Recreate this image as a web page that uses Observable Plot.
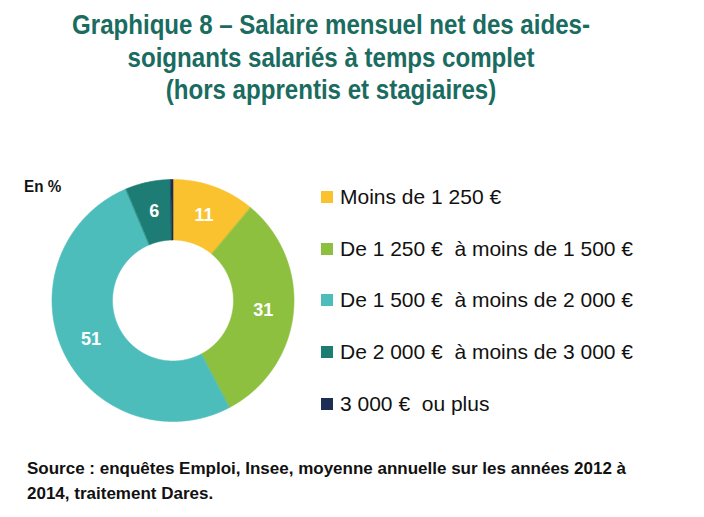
<!DOCTYPE html>
<html lang="fr">
<head>
<meta charset="utf-8">
<script src="https://cdn.jsdelivr.net/npm/d3@7"></script>
<script src="https://cdn.jsdelivr.net/npm/@observablehq/plot@0.6"></script>
<style>
  html, body { margin: 0; padding: 0; background: #fff; }
  #page { position: relative; width: 704px; height: 517px; overflow: hidden; }
  #title {
    position: absolute; left: 0; top: 9px; width: 662px; text-align: center;
    font-family: "Liberation Sans", Arial, sans-serif;
    font-weight: bold; font-size: 28px; line-height: 32.5px;
    color: #1a6b60; transform: scaleX(0.86); transform-origin: 331px 0;
  }
  #unit {
    position: absolute; left: 24px; top: 178px;
    font-family: "Liberation Sans", Arial, sans-serif;
    font-weight: bold; font-size: 16px; color: #111;
    transform: scaleX(0.95); transform-origin: 0 0;
  }
  #chart { position: absolute; left: 0; top: 120px; }
  #legend {
    position: absolute; left: 321px; top: 171px;
    font-family: "Liberation Sans", Arial, sans-serif; font-size: 21px; color: #111;
  }
  #legend .row { display: flex; align-items: center; height: 51.8px; white-space: pre; }
  #legend .sw { width: 12px; height: 12px; margin-right: 7px; }
  #source {
    position: absolute; left: 27px; top: 456px; white-space: nowrap;
    font-family: "Liberation Sans", Arial, sans-serif;
    font-weight: bold; font-size: 17px; line-height: 25px; color: #111;
  }
</style>
</head>
<body>
<div id="page">
  <div id="title">Graphique 8 – Salaire mensuel net des aides-<br>soignants salariés à temps complet<br>(hors apprentis et stagiaires)</div>
  <div id="unit">En %</div>
  <div id="chart"></div>
  <div id="legend"></div>
  <div id="source">Source : enquêtes Emploi, Insee, moyenne annuelle sur les années 2012 à<br>2014, traitement Dares.</div>
</div>
<script>
// Salary brackets (net monthly pay) and their shares, in %
const categories = [
  "Moins de 1 250 €",
  "De 1 250 €  à moins de 1 500 €",
  "De 1 500 €  à moins de 2 000 €",
  "De 2 000 €  à moins de 3 000 €",
  "3 000 €  ou plus"
];
const shares = [11, 31, 51, 6, 0.3];
const shownLabels = ["11", "31", "51", "6", ""];
const colors = ["#f9c22e", "#8dc03f", "#4dbdbb", "#1d7c74", "#1c2e52"];

const innerRatio = 0.5;

// Slice angles: start at 12 o'clock, clockwise
const arcs = d3.pie().sort(null).value(d => d.value)(
  categories.map((c, i) => ({category: c, value: shares[i], label: shownLabels[i]}))
);

// Ring polygons: outer arc forward, inner arc back
const ring = [];
for (const a of arcs) {
  const n = Math.max(2, Math.ceil((a.endAngle - a.startAngle) / (Math.PI / 360)));
  for (let k = 0; k <= n; k++) {
    const t = a.startAngle + (a.endAngle - a.startAngle) * k / n;
    ring.push({category: a.data.category, x: Math.sin(t), y: Math.cos(t)});
  }
  for (let k = n; k >= 0; k--) {
    const t = a.startAngle + (a.endAngle - a.startAngle) * k / n;
    ring.push({category: a.data.category, x: innerRatio * Math.sin(t), y: innerRatio * Math.cos(t)});
  }
}

// Value labels at the middle of each slice
const rMid = (1 + innerRatio) / 2;
const labels = arcs.filter(a => a.data.label).map(a => {
  const t = (a.startAngle + a.endAngle) / 2;
  return {x: rMid * Math.sin(t), y: rMid * Math.cos(t), text: a.data.label};
});

const cx = 172.5, cy = 180, R = 121;

const chart = Plot.plot({
  width: 300,
  height: 320,
  margin: 0,
  x: {domain: [-1, 1], range: [cx - R, cx + R], axis: null},
  y: {domain: [-1, 1], range: [cy + R, cy - R], axis: null},
  color: {domain: categories, range: colors},
  marks: [
    Plot.line(ring, {x: "x", y: "y", z: "category", fill: "category", stroke: "category", strokeWidth: 0.6, curve: "linear-closed"}),
    Plot.text(labels, {x: "x", y: "y", text: "text", fill: "white", fontSize: 18, fontWeight: "bold",
      fontFamily: "'Liberation Sans', Arial, sans-serif"})
  ]
});
document.getElementById("chart").append(chart);

// Legend rows built from the same category/colour lists
const legend = document.getElementById("legend");
categories.forEach((c, i) => {
  const row = document.createElement("div");
  row.className = "row";
  const sw = document.createElement("div");
  sw.className = "sw";
  sw.style.background = colors[i];
  const tx = document.createElement("span");
  tx.textContent = c;
  row.append(sw, tx);
  legend.append(row);
});
</script>
</body>
</html>
